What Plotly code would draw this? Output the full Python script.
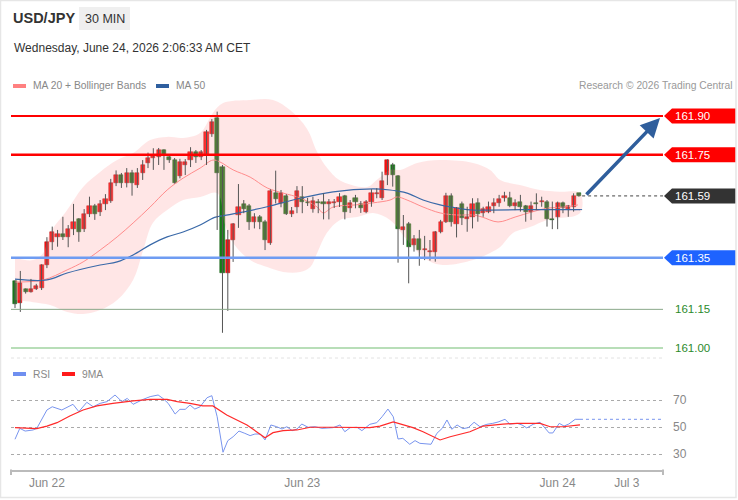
import plotly.graph_objects as go

W, H = 738, 500
FONT = "Liberation Sans, Arial, sans-serif"

def px(x):
    return x / W

def py(y):
    return 1 - y / H

# ---------------- data ----------------
opens = [161.260,161.175,161.229,161.218,161.229,161.232,161.321,161.410,161.430,161.441,
         161.430,161.461,161.500,161.461,161.520,161.551,161.529,161.560,161.570,161.639,
         161.670,161.639,161.679,161.632,161.678,161.718,161.739,161.740,161.768,161.740,
         161.729,161.668,161.710,161.729,161.759,161.740,161.749,161.830,161.891,161.701,
         161.290,161.419,161.517,161.559,161.551,161.490,161.509,161.490,161.409,161.600,
         161.564,161.590,161.520,161.548,161.587,161.568,161.538,161.568,161.568,161.559,
         161.561,161.568,161.590,161.542,161.581,161.559,161.529,161.568,161.596,161.581,
         161.671,161.710,161.667,161.458,161.481,161.400,161.422,161.380,161.374,161.371,
         161.449,161.490,161.590,161.481,161.559,161.499,161.509,161.561,161.523,161.529,
         161.551,161.561,161.581,161.581,161.551,161.568,161.551,161.529,161.561,161.566,
         161.568,161.501,161.509,161.561,161.538,161.548,161.600]
closes = [161.171,161.252,161.218,161.229,161.241,161.321,161.410,161.450,161.441,161.430,
          161.461,161.490,161.450,161.520,161.551,161.520,161.560,161.579,161.639,161.670,
          161.639,161.679,161.639,161.679,161.710,161.739,161.749,161.768,161.749,161.729,
          161.641,161.720,161.720,161.759,161.740,161.759,161.839,161.878,161.680,161.290,
          161.419,161.480,161.548,161.538,161.490,161.509,161.490,161.419,161.610,161.578,
          161.602,161.520,161.531,161.610,161.568,161.561,161.570,161.561,161.559,161.568,
          161.568,161.587,161.529,161.561,161.568,161.542,161.568,161.600,161.600,161.649,
          161.729,161.671,161.462,161.471,161.391,161.422,161.380,161.384,161.378,161.449,
          161.490,161.590,161.490,161.542,161.503,161.509,161.559,161.520,161.538,161.548,
          161.561,161.579,161.590,161.551,161.561,161.548,161.529,161.551,161.557,161.568,
          161.499,161.498,161.561,161.542,161.551,161.590,161.590]
highs = [161.262,161.299,161.231,161.268,161.249,161.325,161.430,161.471,161.458,161.509,
         161.477,161.559,161.504,161.539,161.587,161.559,161.574,161.597,161.656,161.689,
         161.679,161.698,161.691,161.698,161.729,161.758,161.775,161.776,161.771,161.749,
         161.737,161.734,161.733,161.779,161.768,161.768,161.846,161.888,161.917,161.710,
         161.458,161.485,161.636,161.574,161.559,161.523,161.516,161.497,161.616,161.688,
         161.613,161.597,161.547,161.628,161.628,161.582,161.587,161.578,161.600,161.578,
         161.578,161.601,161.594,161.574,161.594,161.570,161.574,161.616,161.620,161.684,
         161.732,161.718,161.671,161.516,161.489,161.438,161.458,161.435,161.419,161.454,
         161.497,161.602,161.600,161.547,161.568,161.548,161.581,161.581,161.548,161.568,
         161.581,161.594,161.606,161.606,161.577,161.594,161.555,161.568,161.600,161.587,
         161.574,161.568,161.568,161.568,161.555,161.600,161.601]
lows = [161.155,161.140,161.211,161.215,161.225,161.225,161.310,161.380,161.393,161.419,
        161.391,161.438,161.412,161.450,161.508,161.497,161.512,161.535,161.563,161.628,
        161.621,161.623,161.591,161.621,161.652,161.698,161.691,161.710,161.691,161.718,
        161.638,161.658,161.671,161.702,161.718,161.729,161.710,161.819,161.458,161.059,
        161.144,161.334,161.466,161.523,161.458,161.464,161.461,161.380,161.400,161.561,
        161.546,161.516,161.508,161.523,161.523,161.551,161.525,161.523,161.499,161.499,
        161.543,161.547,161.499,161.524,161.542,161.524,161.523,161.548,161.581,161.574,
        161.632,161.626,161.331,161.400,161.251,161.374,161.319,161.341,161.339,161.335,
        161.445,161.485,161.471,161.429,161.477,161.451,161.464,161.490,161.509,161.523,
        161.523,161.548,161.568,161.546,161.535,161.529,161.490,161.497,161.535,161.548,
        161.471,161.461,161.461,161.523,161.509,161.529,161.587]

bb_upper_idx = [0, 3.4, 5.3, 6.6, 9.8, 12.8, 16, 19.2, 22.2, 25.4, 28.6, 31.6, 34.8, 37.2, 39.1,
                44.2, 48.5, 51.7, 54.9, 56.8, 58.6, 61.1, 66.2, 68, 70.5, 72.4, 75.6, 79.9,
                86.1, 89.3, 91.2, 94.9, 98.7, 102.4, 106.2]
bb_upper = [161.349, 161.341, 161.369, 161.446, 161.535, 161.625, 161.683, 161.729, 161.756,
            161.807, 161.819, 161.815, 161.834, 161.912, 161.950, 161.962, 161.962, 161.923,
            161.850, 161.760, 161.700, 161.650, 161.625, 161.652, 161.691, 161.691, 161.718,
            161.729, 161.718, 161.691, 161.652, 161.632, 161.613, 161.606, 161.601]
bb_lower_idx = [0, 3.4, 6.6, 9.8, 12.8, 16, 19.2, 22.2, 24.1, 25.9, 28.6, 31.6, 34.8, 38,
                39.5, 41, 44.2, 47.4, 50.4, 53.6, 55.5, 56.8, 58.6, 61.1, 64.3, 67.3, 70.5,
                73.7, 76.7, 78.6, 81.2, 86.1, 89.3, 91.2, 93.6, 96.8, 100, 106.2]
bb_lower = [161.186, 161.178, 161.167, 161.140, 161.132, 161.147, 161.186, 161.264, 161.380,
            161.485, 161.535, 161.574, 161.586, 161.601, 161.477, 161.407, 161.341, 161.314,
            161.295, 161.295, 161.314, 161.369, 161.446, 161.497, 161.508, 161.524, 161.497,
            161.419, 161.353, 161.330, 161.322, 161.341, 161.369, 161.392, 161.446, 161.469,
            161.497, 161.524]
ma20_idx = [0, 5.3, 9.8, 12.8, 16, 19.2, 22.2, 25.4, 28.6, 31.6, 34.8, 37.2, 38.5, 41, 44.2,
            47.4, 50.4, 53.6, 56.8, 57.9, 59.8, 63.9, 67.3, 70.5, 71.8, 73.7, 76.7, 79.9, 83.1,
            86.1, 87.8, 90.8, 94, 97.2, 100.2, 103.4, 105.8]
ma20 = [161.256, 161.264, 161.303, 161.334, 161.380, 161.431, 161.485, 161.547, 161.613,
        161.659, 161.698, 161.729, 161.722, 161.691, 161.663, 161.621, 161.601, 161.582,
        161.547, 161.524, 161.547, 161.555, 161.563, 161.574, 161.586, 161.574, 161.547,
        161.524, 161.516, 161.516, 161.508, 161.489, 161.508, 161.528, 161.543, 161.547,
        161.555]
ma50_idx = [0, 6, 9.8, 16, 19.2, 22.2, 25.4, 28.6, 31.6, 34.8, 37.2, 38, 41, 47.4, 53.6,
            59.8, 67.3, 70.5, 71.8, 73.7, 76.7, 79.9, 83.1, 86.1, 89.3, 96.8, 106.2]
ma50 = [161.267, 161.264, 161.291, 161.322, 161.334, 161.361, 161.400, 161.431, 161.450,
        161.477, 161.504, 161.509, 161.520, 161.548, 161.581, 161.606, 161.617, 161.613,
        161.609, 161.601, 161.574, 161.555, 161.543, 161.535, 161.535, 161.537, 161.537]

rsi_idx = [0, 0.9, 1.9, 3.4, 4.1, 6, 7, 8.8, 10.9, 12, 13.5, 14.7, 16, 17.3, 18.8, 20.1, 21.1,
           22.2, 24.1, 25.4, 26.9, 27.8, 28.8, 30.1, 31, 32, 32.9, 33.8, 34.8, 36.1, 37, 38,
           39.1, 40, 41, 42.1, 43.2, 44.2, 45.1, 46.1, 47, 48.1, 49.2, 50.2, 51.1, 52.1, 53,
           53.9, 55.1, 56.4, 57.7, 58.8, 59.8, 61.1, 62, 63, 64.3, 65.2, 66.2, 66.7, 68, 69,
           70.1, 71.1, 72, 72.9, 74.2, 75.2, 76.1, 77.1, 78.2, 79.3, 80.3, 81.2, 82.1, 83.1,
           84.2, 85.2, 86.3, 87.4, 88.7, 89.8, 90.8, 92.1, 93, 94.4, 95.3, 96.2, 97.4, 98.7,
           100.4, 101.1, 102.3, 103.2, 104.1, 105.3, 106.2]
rsi = [40.9, 49, 47, 47.8, 49, 62.6, 65, 62.6, 66.8, 61.4, 68.3, 65, 67.5, 68.8, 73.7, 68.8,
       71.2, 66.8, 70.5, 72.5, 73.7, 71.2, 67.5, 59.6, 63.1, 63.1, 66.3, 63.3, 65, 71.7, 73.2,
       57.6, 31.3, 39.9, 42.8, 47, 45.3, 43.6, 44.8, 44.8, 40.4, 51.5, 50.2, 48.5, 50.2, 47.3,
       48.5, 52.2, 49.8, 50.2, 49, 49.5, 49.5, 51.5, 46.5, 49.5, 49.8, 47.3, 50.2, 52, 53.2,
       57.6, 63.3, 57.6, 41.1, 41.6, 37.2, 39.9, 37.9, 37.4, 37.2, 45.3, 49, 55.2, 48.3, 51.5,
       48.8, 49.5, 53.5, 50.2, 52, 52.7, 53.7, 55.7, 52.2, 52.7, 51.5, 49.3, 52, 53.5, 45.6,
       45.6, 52.7, 50.7, 52.2, 55.7, 55.7]
rsi_ma_idx = [0, 4.1, 6, 7.9, 10.3, 12.8, 15.4, 18.4, 22.2, 25.4, 28.6, 30.5, 32.9, 35.3, 37.2,
              39.8, 43.6, 45.5, 47, 48.5, 50.4, 53, 55.5, 59.8, 63, 66.7, 68.6, 71.1, 74.8,
              76.7, 79.9, 81.8, 85.5, 88, 91.7, 94.4, 98.7, 100.6, 103, 106.2]
rsi_ma = [49.5, 48.8, 50.7, 53.2, 58.1, 62.6, 65.6, 67.5, 69.3, 70.5, 70.5, 68.8, 67.5, 65.6,
          65.6, 58.9, 51.5, 46.5, 42.1, 45.8, 47.3, 47.8, 49.8, 49.8, 49.5, 49.5, 50.7, 53.7,
          49.5, 46.5, 40.4, 42.8, 46.5, 50.7, 52.2, 52.7, 52.7, 50.2, 50.2, 51.5]

resistances = [161.90, 161.75]
pivot = 161.35
supports = [161.15, 161.00]
rsi_levels = [70, 50, 30]
tick_idx = [6, 54, 102, 115]
tick_text = ["Jun 22", "Jun 23", "Jun 24", "Jul 3"]
header_pair = "USD/JPY"
header_period = "30 MIN"
header_date = "Wednesday, June 24, 2026 2:06:33 AM CET"

# ---------------- geometry ----------------
X_L, X_R = 11, 663
PPU = 257.8          # px per price unit
Y_REF = 116          # px of 161.90
def price_at(ypx):
    return 161.90 - (ypx - Y_REF) / PPU
RSI_PPU = 1.35
def rsi_at(ypx):
    return 50 + (427 - ypx) / RSI_PPU

BAR = 5.32
def idx_at(xpx):
    return (xpx - 15) / BAR

x_range = [idx_at(X_L), idx_at(X_R)]
n = len(opens)
idx = list(range(n))

RED = "#ff1010"
GREEN = "#1b7d1b"

fig = go.Figure()

# Bollinger band fill
fig.add_trace(go.Scatter(
    x=bb_upper_idx + bb_lower_idx[::-1], y=bb_upper + bb_lower[::-1],
    fill="toself", fillcolor="rgba(255,150,150,0.24)", mode="lines",
    line=dict(width=0, shape="spline", smoothing=1.0), hoverinfo="skip"))

# MA lines
fig.add_trace(go.Scatter(x=ma20_idx, y=ma20, mode="lines",
                         line=dict(color="#ff8c8c", width=1, shape="spline"), hoverinfo="skip"))
fig.add_trace(go.Scatter(x=ma50_idx, y=ma50, mode="lines",
                         line=dict(color="#3a69a8", width=1.2, shape="spline"), hoverinfo="skip"))

# wicks
wx, wy = [], []
for i in idx:
    hi = max(highs[i], opens[i], closes[i])
    lo = min(lows[i], opens[i], closes[i])
    wx += [i, i, None]
    wy += [lo, hi, None]
fig.add_trace(go.Scatter(x=wx, y=wy, mode="lines", line=dict(color="#555555", width=1),
                         hoverinfo="skip"))

# bodies
base = [min(o, c) for o, c in zip(opens, closes)]
height = [max(abs(c - o), 0.003) for o, c in zip(opens, closes)]
cols = [RED if c >= o else GREEN for o, c in zip(opens, closes)]
edge = ["#b00000" if c >= o else "#0e560e" for o, c in zip(opens, closes)]
fig.add_trace(go.Bar(x=idx, y=height, base=base, width=0.78,
                     marker=dict(color=cols, line=dict(color=edge, width=0.5)),
                     hoverinfo="skip"))

# dotted extensions (last close, last MA50)
x_end = x_range[1]
fig.add_trace(go.Scatter(x=[n - 1 + 0.6, x_end], y=[closes[-1], closes[-1]], mode="lines",
                         line=dict(color="#444444", width=1, dash="dot"), hoverinfo="skip"))
fig.add_trace(go.Scatter(x=[n - 1 + 0.6, idx_at(X_R - 110)], y=[ma50[-1], ma50[-1]], mode="lines",
                         line=dict(color="#3a69a8", width=1, dash="dot"), hoverinfo="skip"))

# RSI panel
fig.add_trace(go.Scatter(x=rsi_idx, y=rsi, mode="lines", xaxis="x2", yaxis="y2",
                         line=dict(color="#7894ee", width=1), hoverinfo="skip"))
fig.add_trace(go.Scatter(x=rsi_ma_idx, y=rsi_ma, mode="lines", xaxis="x2", yaxis="y2",
                         line=dict(color="#ff2a2a", width=1.2), hoverinfo="skip"))
fig.add_trace(go.Scatter(x=[rsi_idx[-1], x_end], y=[rsi[-1], rsi[-1]], mode="lines",
                         xaxis="x2", yaxis="y2",
                         line=dict(color="#7894ee", width=1, dash="dot"), hoverinfo="skip"))

shapes = []
annotations = []

# level lines
level_styles = [
    (resistances[0], "#ff0000", 2),
    (resistances[1], "#ff0000", 2.5),
    (pivot, "#6f9cf2", 2.5),
    (supports[0], "#8aa88a", 1),
    (supports[1], "#b8deb8", 2),
]
for lv, col, w in level_styles:
    shapes.append(dict(type="line", xref="paper", yref="y", x0=px(X_L), x1=px(X_R),
                       y0=lv, y1=lv, line=dict(color=col, width=w), layer="above"))

# tags on the right
dy = 7.5 / PPU
tag_list = [(resistances[0], "#ff0000"), (resistances[1], "#ff0000"),
            (closes[-1], "#333333"), (pivot, "#1e63ff")]
for lv, col in tag_list:
    path = (f"M {px(664)},{lv} L {px(672)},{lv + dy} L {px(736)},{lv + dy} "
            f"L {px(736)},{lv - dy} L {px(672)},{lv - dy} Z")
    shapes.append(dict(type="path", xref="paper", yref="y", path=path,
                       fillcolor=col, line=dict(width=0), layer="above"))
    annotations.append(dict(x=px(673), y=lv, xref="paper", yref="y", text=f"{lv:.2f}",
                            showarrow=False, xanchor="left", yanchor="middle",
                            font=dict(family=FONT, size=11.5, color="white")))
for lv in supports:
    annotations.append(dict(x=px(673), y=lv, xref="paper", yref="y", text=f"{lv:.2f}",
                            showarrow=False, xanchor="left", yanchor="middle",
                            font=dict(family=FONT, size=11.5, color="#2b8a2b")))

# arrow
annotations.append(dict(x=idx_at(660), y=resistances[0] - 2 / PPU, xref="x", yref="y",
                        ax=idx_at(585), ay=closes[-1], axref="x", ayref="y",
                        showarrow=True, arrowhead=2, arrowsize=1.1, arrowwidth=3.5,
                        arrowcolor="#2f5e9c", text="", standoff=0, startstandoff=0))

# header
shapes.append(dict(type="rect", xref="paper", yref="paper", x0=px(79), x1=px(130),
                   y0=py(30), y1=py(7), fillcolor="#efefef", line=dict(width=0)))
annotations.append(dict(x=px(11), y=py(18), xref="paper", yref="paper", text=f"<b>{header_pair}</b>",
                        showarrow=False, xanchor="left", yanchor="middle",
                        font=dict(family=FONT, size=14.5, color="#333333")))
annotations.append(dict(x=px(104.5), y=py(18.5), xref="paper", yref="paper", text=header_period,
                        showarrow=False, xanchor="center", yanchor="middle",
                        font=dict(family=FONT, size=12.5, color="#333333")))
annotations.append(dict(x=px(12), y=py(48), xref="paper", yref="paper", text=header_date,
                        showarrow=False, xanchor="left", yanchor="middle",
                        font=dict(family=FONT, size=12, color="#333333")))

# legends
LEG = 10.3
def legend_item(x0, ypx, col, label):
    shapes.append(dict(type="rect", xref="paper", yref="paper", x0=px(x0), x1=px(x0 + 13),
                       y0=py(ypx + 2), y1=py(ypx - 2), fillcolor=col, line=dict(width=0)))
    annotations.append(dict(x=px(x0 + 18), y=py(ypx), xref="paper", yref="paper", text=label,
                            showarrow=False, xanchor="left", yanchor="middle",
                            font=dict(family=FONT, size=LEG, color="#888888")))

legend_item(13, 86, "#ff8080", "MA 20 + Bollinger Bands")
legend_item(156, 86, "#2f5f9f", "MA 50")
legend_item(13, 374, "#6f8ff0", "RSI")
legend_item(62, 374, "#ff1a1a", "9MA")
annotations.append(dict(x=px(735), y=py(86), xref="paper", yref="paper",
                        text="Research © 2026 Trading Central", showarrow=False,
                        xanchor="right", yanchor="middle",
                        font=dict(family=FONT, size=LEG, color="#999999")))

# bottom axis end ticks
for xe in (X_L, X_R):
    shapes.append(dict(type="line", xref="paper", yref="paper", x0=px(xe), x1=px(xe),
                       y0=py(469.5), y1=py(475), line=dict(color="#bbbbbb", width=2)))

# faint separator and frame
shapes.append(dict(type="line", xref="paper", yref="paper", x0=px(X_L), x1=px(X_R),
                   y0=py(358), y1=py(358), line=dict(color="#e2e2e2", width=1, dash="dot")))
shapes.append(dict(type="rect", xref="paper", yref="paper", x0=px(0.5), x1=px(736),
                   y0=py(497.5), y1=py(0.5), line=dict(color="#e6e6e6", width=1.5)))

fig.update_layout(
    width=W, height=H, margin=dict(l=0, r=0, t=0, b=0),
    paper_bgcolor="white", plot_bgcolor="white",
    showlegend=False, hovermode=False, barmode="overlay", bargap=0,
    shapes=shapes, annotations=annotations,
    font=dict(family=FONT),
    xaxis=dict(domain=[px(X_L), px(X_R)], range=x_range, visible=False, anchor="y"),
    yaxis=dict(domain=[py(352), py(95)], range=[price_at(352), price_at(95)], visible=False,
               anchor="x"),
    xaxis2=dict(domain=[px(X_L), px(X_R)], range=x_range, anchor="y2", matches="x",
                showline=True, linecolor="#bbbbbb", linewidth=2, showgrid=False, zeroline=False,
                tickmode="array", tickvals=tick_idx, ticktext=tick_text, ticks="",
                ticklabelstandoff=1,
                tickfont=dict(family=FONT, size=12, color="#888888")),
    yaxis2=dict(domain=[py(469.5), py(385)], range=[rsi_at(469.5), rsi_at(385)], anchor="x2",
                side="right", tickmode="array", tickvals=rsi_levels, ticks="",
                showgrid=True, gridcolor="#aaaaaa", griddash="dot", gridwidth=1,
                zeroline=False, showline=False, ticklabelstandoff=9,
                tickfont=dict(family=FONT, size=12, color="#888888")),
)

fig.write_html("out.html")
